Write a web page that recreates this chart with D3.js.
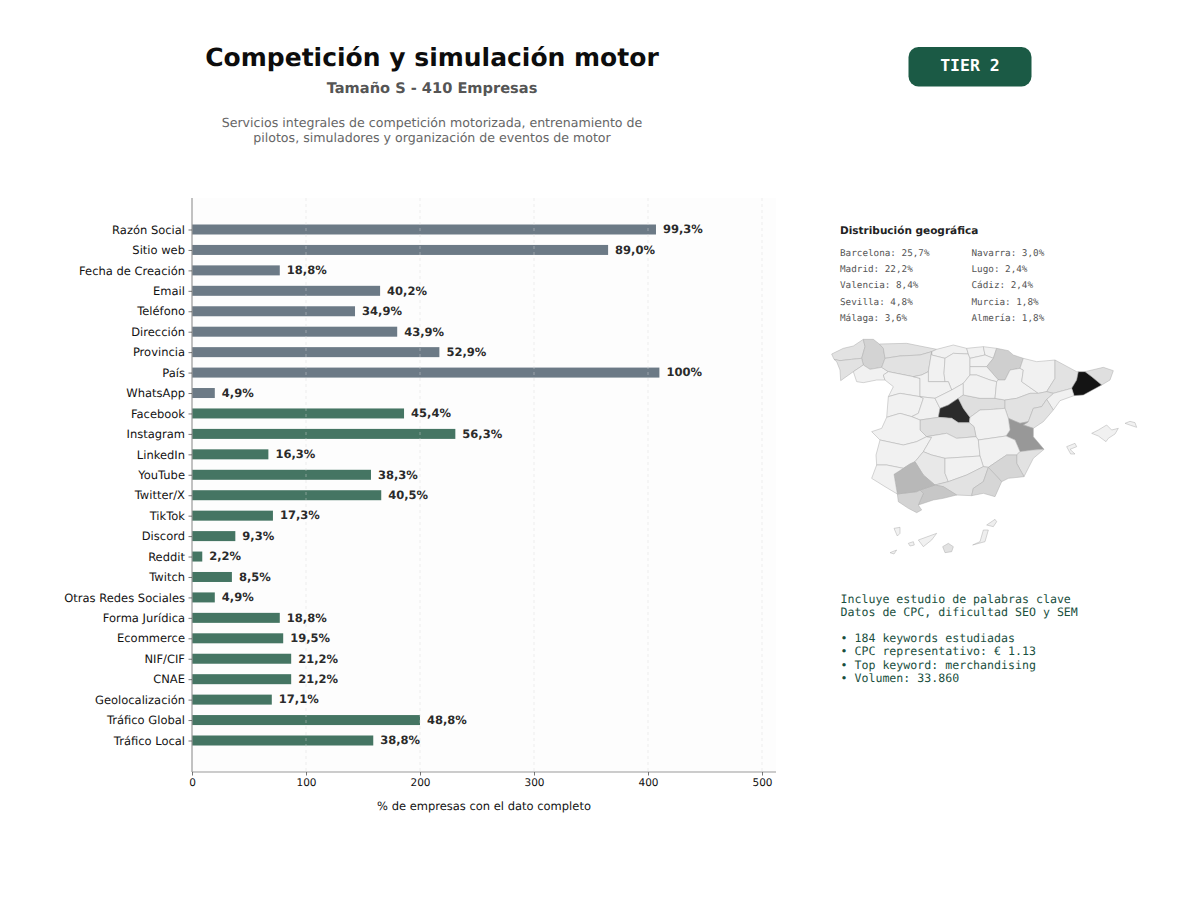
<!DOCTYPE html>
<html><head><meta charset="utf-8">
<script src="https://cdn.jsdelivr.net/npm/d3@7/dist/d3.min.js"></script>
<style>html,body{margin:0;padding:0;background:#fff}svg{display:block;text-rendering:geometricPrecision}text{font-family:"DejaVu Sans",sans-serif}.mono{font-family:"DejaVu Sans Mono",monospace}</style>
</head><body><svg id="c" width="1200" height="900"></svg>
<script>
const categories=["Razón Social","Sitio web","Fecha de Creación","Email","Teléfono","Dirección","Provincia","País","WhatsApp","Facebook","Instagram","LinkedIn","YouTube","Twitter/X","TikTok","Discord","Reddit","Twitch","Otras Redes Sociales","Forma Jurídica","Ecommerce","NIF/CIF","CNAE","Geolocalización","Tráfico Global","Tráfico Local"];
const counts=[407,365,77,165,143,180,217,410,20,186,231,67,157,166,71,38,9,35,20,77,80,87,87,70,200,159];
const pctLabels=["99,3%","89,0%","18,8%","40,2%","34,9%","43,9%","52,9%","100%","4,9%","45,4%","56,3%","16,3%","38,3%","40,5%","17,3%","9,3%","2,2%","8,5%","4,9%","18,8%","19,5%","21,2%","21,2%","17,1%","48,8%","38,8%"];
const grayCount=9;
const xTicks=[0,100,200,300,400,500];
const geoCol1=["Barcelona: 25,7%","Madrid: 22,2%","Valencia: 8,4%","Sevilla: 4,8%","Málaga: 3,6%"];
const geoCol2=["Navarra: 3,0%","Lugo: 2,4%","Cádiz: 2,4%","Murcia: 1,8%","Almería: 1,8%"];
const keywordLines=["Incluye estudio de palabras clave","Datos de CPC, dificultad SEO y SEM","","• 184 keywords estudiadas","• CPC representativo: € 1.13","• Top keyword: merchandising","• Volumen: 33.860"];
const descLines=["Servicios integrales de competición motorizada, entrenamiento de","pilotos, simuladores y organización de eventos de motor"];
// province outlines in map units, with share of companies (%)
const provinces=[
["A Coruña",1.0,[[35,72],[70,55],[100,48],[130,28],[135,50],[125,85],[95,88],[60,92],[42,88]]],
["Lugo",2.4,[[130,28],[160,28],[178,42],[190,55],[195,85],[185,112],[150,118],[130,105],[125,85],[135,50]]],
["Pontevedra",1.0,[[42,88],[60,92],[95,88],[125,85],[130,105],[100,125],[62,152],[60,120],[50,95]]],
["Ourense",0.2,[[100,125],[130,105],[150,118],[185,112],[205,125],[190,135],[195,150],[170,150],[130,158],[110,155]]],
["Asturias",1.0,[[178,42],[260,40],[300,48],[350,58],[335,65],[300,75],[240,78],[195,85],[190,55]]],
["León",1.0,[[195,85],[240,78],[300,75],[335,65],[325,125],[305,135],[280,140],[205,125],[185,112]]],
["Cantabria",0.2,[[350,58],[400,45],[440,55],[445,72],[400,70],[375,85],[335,75],[335,65]]],
["Palencia",0.2,[[335,65],[335,75],[375,85],[372,130],[375,155],[325,155],[325,125]]],
["Burgos",0.2,[[375,85],[400,70],[445,72],[450,85],[450,110],[450,135],[430,160],[395,180],[385,155],[375,155],[372,130]]],
["Bizkaia",0.2,[[440,55],[490,50],[495,75],[450,85],[445,72]]],
["Gipuzkoa",0.2,[[490,50],[530,55],[520,85],[495,75]]],
["Álava",0.2,[[450,85],[495,75],[520,85],[500,110],[450,110]]],
["Navarra",3.0,[[530,55],[565,62],[580,75],[610,85],[600,115],[570,120],[555,150],[535,150],[500,110],[520,85]]],
["La Rioja",0.2,[[450,110],[500,110],[535,150],[530,155],[510,150],[470,135],[450,135]]],
["Zamora",0.2,[[205,125],[280,140],[300,145],[300,200],[240,190],[205,200],[220,170],[195,150],[190,135]]],
["Valladolid",0.2,[[280,140],[305,135],[325,125],[325,155],[375,155],[385,155],[395,180],[345,205],[300,200],[300,145]]],
["Salamanca",0.2,[[205,200],[240,190],[300,200],[310,205],[295,250],[275,260],[240,250],[200,262]]],
["Ávila",0.2,[[300,200],[345,205],[360,235],[355,262],[300,270],[275,260],[295,250],[310,205]]],
["Segovia",0.2,[[345,205],[395,180],[430,160],[430,195],[415,205],[385,225],[360,235]]],
["Madrid",22.2,[[415,205],[430,235],[450,262],[448,278],[415,278],[395,265],[355,262],[360,235],[385,225]]],
["Guadalajara",1.2,[[430,195],[480,205],[525,205],[555,210],[555,235],[520,238],[480,240],[450,262],[430,235],[415,205]]],
["Soria",0.2,[[430,160],[450,135],[470,135],[510,150],[530,155],[525,205],[480,205],[430,195]]],
["Zaragoza",0.2,[[570,120],[600,115],[610,120],[605,155],[655,190],[630,190],[590,205],[555,210],[525,205],[530,155],[535,150],[555,150]]],
["Huesca",0.2,[[610,85],[650,95],[705,90],[705,145],[680,185],[655,190],[605,155],[610,120],[600,115]]],
["Lleida",1.0,[[705,90],[770,125],[775,125],[770,150],[755,175],[700,190],[680,185],[705,145]]],
["Girona",1.2,[[795,125],[850,112],[880,122],[870,150],[845,165],[815,140]]],
["Barcelona",25.7,[[775,125],[795,125],[815,140],[845,165],[790,195],[762,197],[755,175],[770,150]]],
["Tarragona",0.2,[[755,175],[762,197],[720,212],[700,240],[680,208],[700,190]]],
["Teruel",1.0,[[555,210],[590,205],[630,190],[655,190],[680,185],[700,190],[680,208],[665,230],[640,235],[625,275],[600,280],[565,265],[555,235]]],
["Castellón",1.0,[[640,235],[665,230],[680,208],[700,240],[670,275],[640,295],[610,285],[625,275]]],
["Valencia",8.4,[[565,265],[600,280],[625,275],[610,285],[640,295],[640,320],[672,358],[640,360],[600,365],[585,330],[558,318],[570,300]]],
["Cuenca",0.2,[[450,262],[480,240],[520,238],[555,235],[565,265],[570,300],[558,318],[475,330],[468,320],[462,290],[448,278]]],
["Toledo",1.2,[[300,270],[355,262],[395,265],[415,278],[448,278],[462,290],[468,320],[410,325],[380,310],[320,320],[300,300]]],
["Cáceres",0.2,[[200,262],[240,250],[275,260],[300,270],[300,300],[320,320],[290,335],[250,345],[180,330],[155,305],[185,295]]],
["Badajoz",0.2,[[180,330],[250,345],[290,335],[320,320],[335,322],[310,365],[285,395],[270,402],[250,415],[200,405],[170,405],[168,375]]],
["Ciudad Real",0.2,[[320,320],[380,310],[410,325],[468,320],[475,330],[480,378],[375,385],[335,375],[310,365],[335,322]]],
["Albacete",0.2,[[475,330],[558,318],[585,330],[600,365],[590,375],[560,375],[530,395],[505,412],[490,410],[480,378]]],
["Alicante",1.0,[[600,365],[640,360],[672,358],[640,385],[612,440],[590,400],[590,375]]],
["Murcia",1.8,[[560,375],[590,375],[590,400],[612,440],[565,445],[545,455],[505,412],[530,395]]],
["Córdoba",0.8,[[310,365],[335,375],[375,385],[375,430],[385,455],[345,465],[310,435],[285,395]]],
["Jaén",0.2,[[375,385],[480,378],[490,410],[470,420],[440,435],[385,455],[375,430]]],
["Granada",1.0,[[385,455],[440,435],[470,420],[490,410],[505,412],[490,455],[460,475],[455,497],[410,495],[370,470],[345,465]]],
["Almería",1.8,[[505,412],[545,455],[525,500],[490,490],[455,497],[460,475],[490,455]]],
["Málaga",3.6,[[345,465],[370,470],[410,495],[370,505],[340,510],[295,525],[310,490],[300,480]]],
["Cádiz",2.4,[[232,492],[290,485],[300,480],[310,490],[295,525],[305,540],[290,548],[265,535],[235,515]]],
["Sevilla",4.8,[[250,415],[270,402],[285,395],[310,435],[345,465],[300,480],[290,485],[232,492],[222,433]]],
["Huelva",0.2,[[170,405],[200,405],[250,415],[222,433],[232,492],[195,470],[155,445]]],
["Mallorca",0.2,[[815,310],[835,300],[860,285],[875,300],[895,295],[885,312],[865,325],[858,335],[835,318]]],
["Menorca",0.2,[[915,280],[930,274],[945,278],[950,292],[932,286]]],
["Ibiza",0.2,[[740,350],[765,340],[770,350],[750,358],[765,372],[752,372]]],
["Tenerife",0.2,[[295,630],[350,610],[335,630],[310,650]]],
["Gran Canaria",1.0,[[368,650],[385,640],[400,650],[395,665],[375,668]]],
["Fuerteventura",0.6,[[458,645],[480,635],[490,600],[505,600],[495,635]]],
["Lanzarote",0.6,[[500,585],[525,568],[530,575],[520,590]]],
["La Palma",0.2,[[222,595],[240,592],[240,610],[232,618]]],
["La Gomera",0.2,[[265,640],[280,635],[283,645],[270,648]]],
["El Hierro",0.2,[[210,668],[230,660],[222,672]]]
];

const svg=d3.select("#c");
svg.append("rect").attr("width",1200).attr("height",900).attr("fill","#fff");
const x=d3.scaleLinear().domain([0,500]).range([192,762]);
const y=d3.scalePoint().domain(categories).range([229.5,740.5]);
const plotTop=198,plotBottom=772,plotRight=776,barH=10;

// titles
const t=(s,xx,yy,size,fill,weight,anchor,cls)=>svg.append("text").attr("x",xx).attr("y",yy).attr("font-size",size).attr("fill",fill).attr("font-weight",weight||"normal").attr("text-anchor",anchor||"start").attr("class",cls||null).text(s);
t("Competición y simulación motor",432,66,25,"#0d0d0d","bold","middle");
t("Tamaño S - 410 Empresas",432,92.5,14.6,"#555","bold","middle");
descLines.forEach((s,i)=>t(s,432,127+i*15,12.6,"#666","normal","middle"));

// badge
svg.append("rect").attr("x",908.5).attr("y",47).attr("width",123).attr("height",39.5).attr("rx",10).attr("fill","#1b5a45");
t("TIER 2",970,71,16.5,"#fff","bold","middle","mono");

// plot
svg.append("rect").attr("x",192).attr("y",plotTop).attr("width",plotRight-192).attr("height",plotBottom-plotTop).attr("fill","#fdfdfd");
svg.append("g").selectAll("rect").data(categories).join("rect")
 .attr("x",x(0)).attr("y",d=>y(d)-barH/2).attr("height",barH)
 .attr("width",(d,i)=>x(counts[i])-x(0))
 .attr("fill",(d,i)=>i<grayCount?"#6c7a86":"#457563");
svg.append("g").selectAll("line").data(xTicks.slice(1)).join("line")
 .attr("x1",d=>x(d)).attr("x2",d=>x(d)).attr("y1",plotTop).attr("y2",plotBottom)
 .attr("stroke","#d8d8d8").attr("stroke-opacity",.55).attr("stroke-width",.8).attr("stroke-dasharray","3,3");
svg.append("g").selectAll("text").data(categories).join("text")
 .attr("x",(d,i)=>x(counts[i])+7).attr("y",d=>y(d)+3.8)
 .attr("font-size",11.5).attr("font-weight","bold").attr("fill","#2b2b2b")
 .text((d,i)=>pctLabels[i]);

const gy=svg.append("g").attr("transform","translate(192,0)").call(d3.axisLeft(y).tickSize(3.5).tickPadding(3.5));
gy.select(".domain").attr("d",`M0,${plotTop}V${plotBottom}`).attr("stroke","#999").attr("stroke-width",1.2);
gy.selectAll(".tick line").attr("stroke","#555").attr("stroke-width",.8);
gy.selectAll("text").attr("font-size",11.5).attr("font-family","'DejaVu Sans',sans-serif").attr("fill","#111");
const gx=svg.append("g").attr("transform",`translate(0,${plotBottom})`).call(d3.axisBottom(x).tickValues(xTicks).tickFormat(d3.format("d")).tickSize(3.5).tickPadding(3.5));
gx.select(".domain").attr("d",`M192,0H${plotRight}`).attr("stroke","#999").attr("stroke-width",1.2);
gx.selectAll(".tick line").attr("stroke","#555").attr("stroke-width",.8);
gx.selectAll("text").attr("font-size",10.5).attr("font-family","'DejaVu Sans',sans-serif").attr("fill","#111");
t("% de empresas con el dato completo",484,810,11.5,"#111","normal","middle");

// geography
t("Distribución geográfica",840,234,10.5,"#222","bold");
geoCol1.forEach((s,i)=>t(s,840,256+i*16.2,9.3,"#555","normal","start","mono"));
geoCol2.forEach((s,i)=>t(s,971.5,256+i*16.2,9.3,"#555","normal","start","mono"));

const mx=d3.scaleLinear().domain([0,990]).range([820,1150]);
const my=d3.scaleLinear().domain([0,720]).range([330,570]);
const shade=d3.scaleLinear().domain([0,0.5,1,1.8,3,4.8,8.4,22.2,25.7]).range(["#f1f1f1","#f1f1f1","#e2e2e2","#d6d6d6","#cfcfcf","#b8b8b8","#989898","#2b2b2b","#141414"]);
const outline=d3.line().x(d=>mx(d[0])).y(d=>my(d[1])).curve(d3.curveLinearClosed);
svg.append("g").selectAll("path").data(provinces).join("path")
 .attr("d",d=>outline(d[2])).attr("fill",d=>shade(d[1]))
 .attr("stroke","#adadad").attr("stroke-width",.5).attr("stroke-linejoin","round");

// keywords
keywordLines.forEach((s,i)=>{ if(s) t(s,840.5,603+i*13.1,11.6,"#1a4f3e","normal","start","mono"); });
</script></body></html>
